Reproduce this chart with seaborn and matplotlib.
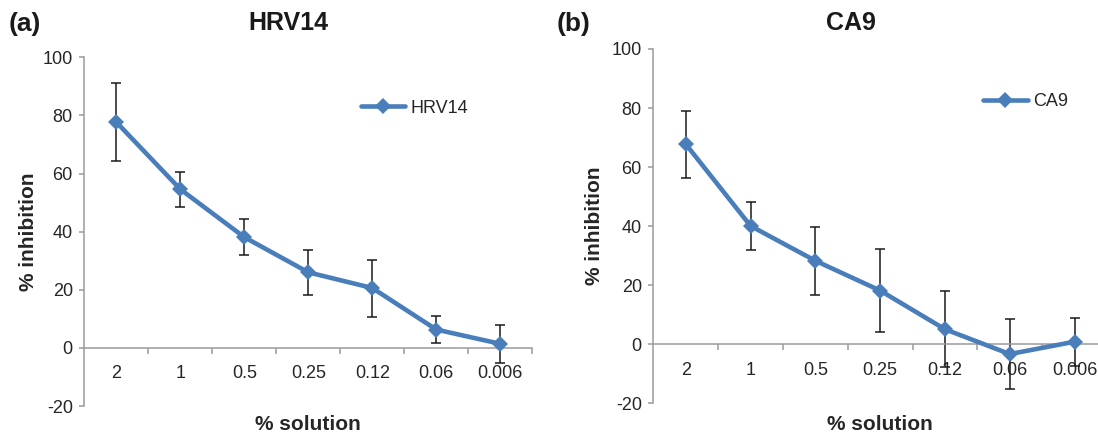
import numpy as np
import pandas as pd
import matplotlib
matplotlib.use("Agg")
import matplotlib.pyplot as plt
from matplotlib.ticker import FixedLocator
import seaborn as sns

# ---- data ----
solutions = ["2", "1", "0.5", "0.25", "0.12", "0.06", "0.006"]
hrv14_mean = [77.7, 54.6, 38.1, 26.0, 20.6, 6.3, 1.4]
hrv14_err = [13.5, 6.0, 6.25, 7.7, 9.8, 4.7, 6.6]
ca9_mean = [67.8, 40.1, 28.3, 18.2, 5.1, -3.3, 0.9]
ca9_err = [11.35, 8.25, 11.45, 13.95, 12.8, 11.9, 8.15]
y_ticks = [-20, 0, 20, 40, 60, 80, 100]

sns.set_style("white")
plt.rcParams["font.family"] = ["Liberation Sans", "DejaVu Sans"]
plt.rcParams["axes.unicode_minus"] = False

W, H = 1098, 436
fig = plt.figure(figsize=(W / 100, H / 100), dpi=100)

LINE = "#4A7EBB"
SPINE = "#9a9a9a"
TXT = "#262626"


def px_rect(x0, x1, ytop, ybot):
    return [x0 / W, 1 - ybot / H, (x1 - x0) / W, (ybot - ytop) / H]


def panel(rect, name, mean, err, letter, letter_x, title_x, leg_xy, ylab_x, xlab_y):
    ax = fig.add_axes(rect)
    df = pd.DataFrame({"solution": solutions, "inhibition": mean})
    ax.errorbar(solutions, mean, yerr=err, fmt="none", ecolor="#1a1a1a",
                elinewidth=1.1, capsize=3.4, capthick=1.1, zorder=2)
    sns.lineplot(data=df, x="solution", y="inhibition", ax=ax, sort=False,
                 errorbar=None, color=LINE, linewidth=3.3, marker="D",
                 markersize=8, markeredgewidth=0, markeredgecolor=LINE,
                 label=name, zorder=3)
    ax.set_xlim(-0.5, len(solutions) - 0.5)
    ax.set_ylim(-20, 100)
    ax.set_yticks(y_ticks)
    ax.set_yticklabels([str(v) for v in y_ticks])
    for s in ["top", "right"]:
        ax.spines[s].set_visible(False)
    ax.spines["left"].set_color(SPINE)
    ax.spines["left"].set_linewidth(1.1)
    ax.spines["bottom"].set_color(SPINE)
    ax.spines["bottom"].set_linewidth(1.1)
    ax.spines["bottom"].set_position(("data", 0))
    ax.xaxis.set_minor_locator(FixedLocator([i + 0.5 for i in range(len(solutions))]))
    ax.tick_params(axis="x", which="major", length=0, pad=12.5,
                   labelsize=13, labelcolor=TXT)
    ax.tick_params(axis="x", which="minor", length=4, width=1.1,
                   color=SPINE, direction="out", bottom=True)
    ax.tick_params(axis="y", which="major", length=3.6, width=1.1,
                   color=SPINE, direction="out", pad=4.7,
                   labelsize=13, labelcolor=TXT, left=True)
    ax.grid(False)

    ax.set_xlabel("% solution", fontsize=15, fontweight="bold", color=TXT)
    ax.set_ylabel("% inhibition", fontsize=15, fontweight="bold", color=TXT)
    x0, x1 = rect[0] * W, (rect[0] + rect[2]) * W
    ybot = (1 - rect[1]) * H
    ytop = ybot - rect[3] * H
    ax.yaxis.set_label_coords((ylab_x - x0) / (x1 - x0), 0.5)
    ax.yaxis.label.set_va("center")
    ax.xaxis.set_label_coords(0.5, (ybot - xlab_y) / (ybot - ytop))
    ax.xaxis.label.set_va("baseline")

    leg = ax.legend(loc="center left",
                    bbox_to_anchor=(leg_xy[0] / W, 1 - leg_xy[1] / H),
                    bbox_transform=fig.transFigure, frameon=False,
                    borderpad=0, borderaxespad=0, handlelength=2.45,
                    handletextpad=0.3, fontsize=13)
    for t in leg.get_texts():
        t.set_color(TXT)

    fig.text(title_x / W, 1 - 29.5 / H, name, ha="center", va="baseline",
             fontsize=18, fontweight="bold", color="#1a1a1a")
    fig.text(letter_x / W, 1 - 30.5 / H, letter, ha="left", va="baseline",
             fontsize=19, fontweight="bold", color="#1a1a1a")
    return ax


panel(px_rect(84.3, 532.3, 57.3, 406.0), "HRV14", hrv14_mean, hrv14_err,
      "(a)", 8.7, 288.6, (360.7, 108.3), 28, 430)
panel(px_rect(653.3, 1107.0, 49.0, 403.4), "CA9", ca9_mean, ca9_err,
      "(b)", 557, 850.6, (983.3, 101.7), 595, 430)

fig.savefig("out.png", dpi=100)
